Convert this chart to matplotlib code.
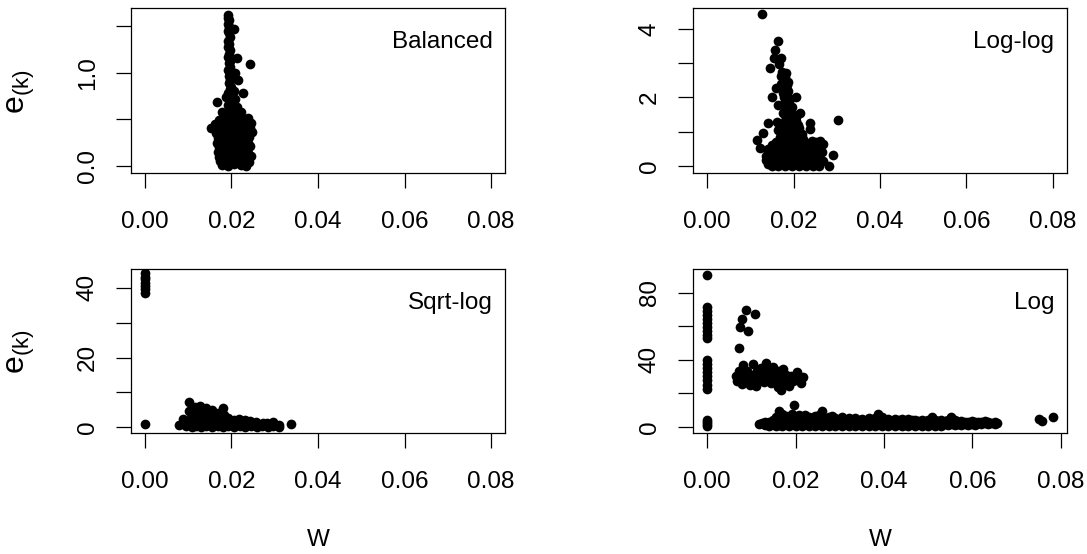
import matplotlib
matplotlib.use("Agg")
import matplotlib.pyplot as plt

plt.rcParams['font.family'] = ['Liberation Sans', 'DejaVu Sans']
plt.rcParams['mathtext.fontset'] = 'custom'
plt.rcParams['mathtext.rm'] = 'Liberation Sans'
plt.rcParams['mathtext.it'] = 'Liberation Sans:italic'

# ---------------- data ----------------
panel_names = ["Balanced", "Log-log", "Sqrt-log", "Log"]
x_ticks = [0.00, 0.02, 0.04, 0.06, 0.08]
x_tick_labels = ["0.00", "0.02", "0.04", "0.06", "0.08"]

bal_ticks = [0.0, 0.5, 1.0, 1.5]
bal_tick_labels = ["0.0", "", "1.0", ""]
loglog_ticks = [0, 1, 2, 3, 4]
loglog_tick_labels = ["0", "", "2", "", "4"]
sqrtlog_ticks = [0, 10, 20, 30, 40]
sqrtlog_tick_labels = ["0", "", "20", "", "40"]
log_ticks = [0, 20, 40, 60, 80]
log_tick_labels = ["0", "", "40", "", "80"]

bal_points = [
    (0.0193, 1.62), (0.0192, 1.59), (0.0194, 1.56), (0.0193, 1.52), (0.0195, 1.49),
    (0.0205, 1.47), (0.0192, 1.45), (0.0194, 1.42), (0.0196, 1.38), (0.0193, 1.34),
    (0.0195, 1.31), (0.0192, 1.27), (0.0196, 1.24), (0.0194, 1.20), (0.0193, 1.17),
    (0.0213, 1.16), (0.0197, 1.13), (0.0194, 1.10), (0.0242, 1.09), (0.0196, 1.06),
    (0.0193, 1.03), (0.0209, 1.00), (0.0198, 0.99), (0.0195, 0.96), (0.0215, 0.92),
    (0.0197, 0.92), (0.0194, 0.89), (0.0199, 0.85), (0.0203, 0.94),
    (0.0196, 0.82), (0.0205, 0.80), (0.0192, 0.78), (0.0227, 0.78), (0.0201, 0.75),
    (0.0188, 0.74), (0.0209, 0.72), (0.0196, 0.70), (0.0166, 0.69), (0.0204, 0.67),
    (0.0192, 0.65), (0.0212, 0.63), (0.0198, 0.61), (0.0178, 0.58), (0.0207, 0.58),
    (0.0190, 0.56), (0.0215, 0.55), (0.0200, 0.53), (0.0184, 0.52), (0.0222, 0.58),
    (0.0172, 0.49), (0.0186, 0.50), (0.0199, 0.48), (0.0212, 0.50), (0.0225, 0.49), (0.0238, 0.51),
    (0.0161, 0.45), (0.0175, 0.44), (0.0190, 0.45), (0.0204, 0.43), (0.0218, 0.45), (0.0232, 0.44), (0.0246, 0.46),
    (0.0153, 0.41), (0.0168, 0.40), (0.0183, 0.39), (0.0197, 0.41), (0.0211, 0.39), (0.0226, 0.40), (0.0242, 0.41),
    (0.0165, 0.35), (0.0179, 0.36), (0.0193, 0.34), (0.0207, 0.36), (0.0221, 0.35), (0.0236, 0.34), (0.0248, 0.36),
    (0.0170, 0.30), (0.0184, 0.29), (0.0198, 0.31), (0.0213, 0.30), (0.0227, 0.29), (0.0241, 0.31),
    (0.0167, 0.25), (0.0181, 0.24), (0.0195, 0.26), (0.0209, 0.25), (0.0223, 0.24), (0.0238, 0.25),
    (0.0171, 0.20), (0.0186, 0.19), (0.0200, 0.21), (0.0214, 0.20), (0.0228, 0.19), (0.0243, 0.21),
    (0.0168, 0.15), (0.0182, 0.16), (0.0196, 0.14), (0.0210, 0.15), (0.0224, 0.16), (0.0239, 0.14),
    (0.0172, 0.10), (0.0186, 0.09), (0.0200, 0.11), (0.0214, 0.10), (0.0229, 0.09), (0.0245, 0.11),
    (0.0174, 0.05), (0.0188, 0.06), (0.0202, 0.04), (0.0216, 0.05), (0.0230, 0.06), (0.0241, 0.04),
    (0.0179, 0.01), (0.0193, 0.00), (0.0207, 0.02), (0.0221, 0.01), (0.0234, 0.00),
]

loglog_points = [
    (0.0128, 4.42), (0.0163, 3.64), (0.0158, 3.38), (0.0154, 3.14), (0.0172, 3.14),
    (0.0166, 2.98), (0.0146, 2.85), (0.0173, 2.75), (0.0181, 2.60), (0.0185, 2.36),
    (0.0160, 2.28), (0.0150, 2.02), (0.0206, 2.02), (0.0163, 1.78), (0.0215, 1.54),
    (0.0162, 1.29), (0.0141, 1.24), (0.0239, 1.24), (0.0237, 1.08), (0.0302, 1.34),
    (0.0129, 0.95), (0.0115, 0.76), (0.0122, 0.53), (0.0291, 0.32), (0.0281, 0.01),
    (0.0178, 2.55), (0.0186, 2.45), (0.0180, 2.30), (0.0188, 2.20), (0.0176, 2.12),
    (0.0185, 2.05), (0.0192, 1.95), (0.0180, 1.90), (0.0188, 1.80), (0.0196, 1.72),
    (0.0182, 1.65), (0.0190, 1.58), (0.0200, 1.50), (0.0185, 1.45), (0.0194, 1.38),
    (0.0205, 1.32), (0.0180, 1.30), (0.0190, 1.22), (0.0200, 1.15), (0.0212, 1.10),
    (0.0178, 1.12), (0.0186, 1.05), (0.0196, 1.00), (0.0208, 0.95), (0.0220, 0.92),
    (0.0172, 0.98), (0.0182, 0.90), (0.0170, 2.62), (0.0183, 2.70), (0.0172, 2.40),
    (0.0178, 2.00), (0.0185, 1.85), (0.0192, 1.65), (0.0175, 1.55), (0.0183, 1.40),
    (0.0205, 1.42), (0.0175, 1.20), (0.0195, 1.25), (0.0210, 1.20), (0.0165, 1.05),
    (0.0168, 0.85), (0.0178, 0.78), (0.0190, 0.82), (0.0200, 0.80), (0.0212, 0.78),
    (0.0222, 0.80), (0.0172, 0.70), (0.0185, 0.68), (0.0198, 0.70), (0.0210, 0.67),
    (0.0225, 0.70),
    (0.0160, 0.70), (0.0205, 0.72), (0.0242, 0.74), (0.0252, 0.70), (0.0262, 0.72),
    (0.0150, 0.60), (0.0172, 0.62), (0.0190, 0.64), (0.0215, 0.60), (0.0235, 0.63), (0.0258, 0.61), (0.0268, 0.64),
    (0.0142, 0.50), (0.0158, 0.52), (0.0175, 0.49), (0.0192, 0.51), (0.0210, 0.50), (0.0228, 0.52), (0.0245, 0.49), (0.0262, 0.51),
    (0.0140, 0.40), (0.0155, 0.38), (0.0170, 0.41), (0.0186, 0.39), (0.0202, 0.40), (0.0218, 0.38), (0.0234, 0.41), (0.0250, 0.39), (0.0265, 0.40),
    (0.0137, 0.28), (0.0152, 0.30), (0.0167, 0.27), (0.0183, 0.29), (0.0198, 0.28), (0.0214, 0.30), (0.0230, 0.27), (0.0246, 0.29), (0.0260, 0.28),
    (0.0136, 0.17), (0.0149, 0.15), (0.0164, 0.18), (0.0180, 0.16), (0.0195, 0.17), (0.0211, 0.15), (0.0226, 0.18), (0.0242, 0.16), (0.0256, 0.17), (0.0268, 0.15),
    (0.0140, 0.06), (0.0154, 0.07), (0.0168, 0.05), (0.0183, 0.06), (0.0199, 0.07), (0.0214, 0.05), (0.0230, 0.06), (0.0245, 0.07), (0.0260, 0.05),
    (0.0150, 0.00), (0.0165, 0.01), (0.0180, 0.00), (0.0196, 0.01), (0.0212, 0.00), (0.0228, 0.01), (0.0244, 0.00), (0.0258, 0.01),
]

sqrtlog_points = [
    (0.0000, 44.1), (0.0000, 43.2), (0.0000, 42.4), (0.0000, 41.5), (0.0000, 40.6),
    (0.0000, 39.6), (0.0000, 38.5), (0.0000, 0.9),
    (0.0102, 7.35), (0.0103, 4.8), (0.0181, 5.4), (0.0088, 2.3), (0.0078, 0.67),
    (0.0337, 0.95), (0.0295, 1.4),
    (0.0095, 0.3), (0.0096, 1.1),
    (0.0108, 0.2), (0.0109, 1.5), (0.0107, 2.8), (0.0110, 3.9),
    (0.0118, 0.4), (0.0119, 1.8), (0.0117, 3.2), (0.0120, 4.8), (0.0116, 5.8),
    (0.0130, 0.2), (0.0131, 1.4), (0.0129, 2.6), (0.0132, 3.9), (0.0130, 5.2), (0.0128, 6.0),
    (0.0142, 0.5), (0.0143, 1.9), (0.0141, 3.1), (0.0144, 4.4), (0.0142, 5.5),
    (0.0155, 0.2), (0.0156, 1.3), (0.0154, 2.5), (0.0157, 3.7), (0.0155, 4.9),
    (0.0168, 0.4), (0.0169, 1.7), (0.0167, 2.9), (0.0170, 4.2),
    (0.0180, 0.1), (0.0181, 1.2), (0.0179, 2.4), (0.0182, 3.5),
    (0.0193, 0.3), (0.0194, 1.5), (0.0192, 2.7),
    (0.0206, 0.1), (0.0207, 1.1), (0.0205, 2.2),
    (0.0219, 0.4), (0.0220, 1.5), (0.0218, 2.3),
    (0.0232, 0.2), (0.0233, 1.2), (0.0231, 2.0),
    (0.0245, 0.3), (0.0246, 1.0), (0.0244, 1.7),
    (0.0258, 0.1), (0.0259, 0.8), (0.0257, 1.5),
    (0.0271, 0.3), (0.0272, 1.1),
    (0.0284, 0.1), (0.0285, 0.8), (0.0283, 1.3),
    (0.0297, 0.3), (0.0310, 0.2), (0.0311, 0.6),
]

log_points = [
    (0.0000, 90.5),
    (0.0000, 71.3), (0.0000, 68.9), (0.0000, 66.5), (0.0000, 64.1), (0.0000, 61.7),
    (0.0000, 59.3), (0.0000, 57.0), (0.0000, 54.8), (0.0000, 52.8),
    (0.0000, 40.1), (0.0000, 37.6), (0.0000, 35.1), (0.0000, 32.6), (0.0000, 30.1),
    (0.0000, 27.6), (0.0000, 25.1), (0.0000, 22.6),
    (0.0000, 0.5), (0.0000, 1.7), (0.0000, 2.9), (0.0000, 3.9),
    (0.0087, 69.7), (0.0109, 67.1), (0.0079, 64.2), (0.0075, 59.8), (0.0092, 57.4), (0.0071, 46.9),
    (0.0065, 30.5), (0.0068, 27.5), (0.0072, 33.0), (0.0075, 29.0), (0.0078, 25.5),
    (0.0081, 36.8), (0.0083, 31.5), (0.0087, 27.0), (0.0090, 33.5), (0.0093, 29.5),
    (0.0097, 25.0), (0.0100, 31.0), (0.0104, 37.6), (0.0106, 27.5), (0.0111, 24.2),
    (0.0112, 33.0), (0.0118, 29.0), (0.0122, 35.0), (0.0125, 31.0), (0.0128, 26.5),
    (0.0134, 38.0), (0.0138, 33.5), (0.0142, 29.5), (0.0145, 26.0), (0.0150, 35.5),
    (0.0153, 31.0), (0.0157, 27.5), (0.0160, 24.0), (0.0163, 33.0), (0.0166, 22.2),
    (0.0168, 29.0), (0.0172, 34.5), (0.0175, 26.0), (0.0178, 31.0), (0.0182, 28.0),
    (0.0186, 24.5), (0.0190, 30.0), (0.0195, 27.0), (0.0200, 29.5), (0.0204, 32.5),
    (0.0208, 28.0), (0.0212, 26.1), (0.0216, 29.5),
    (0.0197, 12.9), (0.0162, 9.3), (0.0259, 9.3), (0.0387, 7.3), (0.0509, 5.9), (0.0551, 5.9),
    (0.0750, 4.4), (0.0758, 3.4), (0.0782, 5.7),
    (0.0118, 1.6), (0.0125, 2.4), (0.0132, 1.2), (0.0132, 3.0), (0.0140, 0.6), (0.0140, 2.6),
    (0.0148, 1.8), (0.0148, 4.0), (0.0155, 0.4), (0.0155, 2.8), (0.0155, 5.5),
    (0.0162, 1.2), (0.0162, 3.6), (0.0170, 0.3), (0.0170, 2.4), (0.0170, 5.0), (0.0170, 7.5),
    (0.0178, 1.5), (0.0178, 4.2), (0.0178, 6.5), (0.0185, 0.5), (0.0185, 2.8), (0.0185, 5.8),
    (0.0192, 1.8), (0.0192, 4.5), (0.0192, 7.8), (0.0200, 0.4), (0.0200, 3.0), (0.0200, 6.0),
    (0.0208, 1.4), (0.0208, 4.2), (0.0208, 7.0), (0.0215, 0.3), (0.0215, 2.6), (0.0215, 5.4),
    (0.0222, 1.6), (0.0222, 4.0), (0.0222, 6.8), (0.0230, 0.5), (0.0230, 3.0), (0.0230, 5.5),
    (0.0238, 1.8), (0.0238, 4.4), (0.0245, 0.3), (0.0245, 2.9), (0.0245, 6.2),
    (0.0252, 1.4), (0.0252, 4.5), (0.0252, 7.2), (0.0260, 0.5), (0.0260, 3.0), (0.0260, 5.8),
    (0.0268, 1.8), (0.0268, 4.2), (0.0275, 0.4), (0.0275, 2.6), (0.0275, 5.5),
    (0.0283, 1.5), (0.0283, 4.0), (0.0283, 6.5), (0.0290, 0.3), (0.0290, 2.8), (0.0290, 5.2),
    (0.0298, 1.6), (0.0298, 4.3), (0.0305, 0.6), (0.0305, 3.0), (0.0305, 5.6),
    (0.0313, 1.8), (0.0313, 4.0), (0.0320, 0.4), (0.0320, 2.7), (0.0320, 5.0),
    (0.0328, 1.5), (0.0328, 3.9), (0.0335, 0.5), (0.0335, 2.8), (0.0335, 5.2),
    (0.0343, 1.7), (0.0343, 4.1), (0.0350, 0.3), (0.0350, 2.6), (0.0350, 4.8),
    (0.0358, 1.4), (0.0358, 3.7), (0.0365, 0.5), (0.0365, 2.9), (0.0365, 5.0),
    (0.0373, 1.6), (0.0373, 4.0), (0.0380, 0.4), (0.0380, 2.7), (0.0380, 5.4),
    (0.0388, 1.5), (0.0388, 3.8), (0.0395, 0.6), (0.0395, 2.9), (0.0395, 5.6),
    (0.0403, 1.8), (0.0403, 4.2), (0.0410, 0.4), (0.0410, 2.6), (0.0410, 4.8),
    (0.0418, 1.4), (0.0418, 3.6), (0.0425, 0.5), (0.0425, 2.8), (0.0425, 4.6),
    (0.0433, 1.6), (0.0433, 3.8), (0.0440, 0.3), (0.0440, 2.5), (0.0440, 4.4),
    (0.0448, 1.3), (0.0448, 3.5), (0.0455, 0.5), (0.0455, 2.7), (0.0455, 4.6),
    (0.0463, 1.5), (0.0463, 3.8), (0.0470, 0.4), (0.0470, 2.4), (0.0470, 4.3),
    (0.0478, 1.4), (0.0478, 3.4), (0.0485, 0.6), (0.0485, 2.6), (0.0485, 4.2),
    (0.0493, 1.5), (0.0493, 3.5), (0.0500, 0.5), (0.0500, 2.4), (0.0500, 4.0),
    (0.0508, 1.6), (0.0515, 0.6), (0.0515, 2.6), (0.0515, 3.9),
    (0.0523, 1.4), (0.0523, 3.3), (0.0530, 0.7), (0.0530, 2.5), (0.0530, 4.0),
    (0.0538, 1.5), (0.0538, 3.4), (0.0545, 0.8), (0.0545, 2.6), (0.0545, 4.2),
    (0.0553, 1.6), (0.0553, 3.3), (0.0560, 0.9), (0.0560, 2.5), (0.0560, 3.8),
    (0.0568, 1.7), (0.0568, 3.0), (0.0575, 1.0), (0.0575, 2.6), (0.0575, 3.6),
    (0.0583, 1.8), (0.0583, 3.1), (0.0590, 1.1), (0.0590, 2.6),
    (0.0598, 1.9), (0.0598, 3.2), (0.0605, 1.2), (0.0605, 2.7),
    (0.0613, 2.0), (0.0613, 3.0), (0.0620, 1.4), (0.0620, 2.6),
    (0.0628, 2.1), (0.0628, 3.2), (0.0635, 1.6), (0.0635, 2.8),
    (0.0643, 2.2), (0.0650, 1.8), (0.0650, 2.8), (0.0656, 2.3),
]

# ---------------- layout (pixel geometry of the reference) ----------------
W, H = 1087, 554
fig = plt.figure(figsize=(W / 100, H / 100), dpi=100)


def box(l, t, r, b):
    return [l / W, 1 - b / H, (r - l) / W, (b - t) / H]


panels = [
    dict(pts=bal_points, rect=box(131, 8.3, 505, 172.7), ylim=(-0.072, 1.69),
         yt=bal_ticks, ytl=bal_tick_labels, xlim=(-0.0032, 0.0832)),
    dict(pts=loglog_points, rect=box(693.3, 8.3, 1066.7, 172.7), ylim=(-0.195, 4.60),
         yt=loglog_ticks, ytl=loglog_tick_labels, xlim=(-0.0032, 0.0832)),
    dict(pts=sqrtlog_points, rect=box(131, 269.3, 505, 433.3), ylim=(-1.72, 45.3),
         yt=sqrtlog_ticks, ytl=sqrtlog_tick_labels, xlim=(-0.0032, 0.0832)),
    dict(pts=log_points, rect=box(693.3, 269.3, 1066.7, 433.3), ylim=(-3.94, 94.0),
         yt=log_ticks, ytl=log_tick_labels, xlim=(-0.00313, 0.08133)),
]

FS = 17.5
LW = 0.9
for i, p in enumerate(panels):
    ax = fig.add_axes(p["rect"])
    xs = [q[0] for q in p["pts"]]
    ys = [q[1] for q in p["pts"]]
    ax.plot(xs, ys, linestyle="none", marker="o", markersize=7.0,
            markerfacecolor="black", markeredgewidth=0, color="black")
    ax.set_xlim(*p["xlim"])
    ax.set_ylim(*p["ylim"])
    ax.set_xticks(x_ticks)
    ax.set_xticklabels(x_tick_labels, fontsize=FS)
    ax.set_yticks(p["yt"])
    ax.set_yticklabels(p["ytl"], fontsize=FS)
    for lab in ax.get_yticklabels():
        lab.set_rotation(90)
        lab.set_va("center")
        lab.set_ha("right")
    ax.tick_params(axis="both", direction="out", length=10.8, width=LW, color="black")
    ax.tick_params(axis="x", pad=16.5)
    ax.tick_params(axis="y", pad=12.5)
    for s in ax.spines.values():
        s.set_linewidth(LW)
        s.set_color("black")
    ax.text(0.967, 0.795, panel_names[i], transform=ax.transAxes,
            ha="right", va="center", fontsize=FS)

# axis titles
fig.text(21.5 / W, 1 - 91.5 / H, r"$\mathregular{e_{(k)}}$", rotation=90,
         ha="center", va="center", fontsize=23)
fig.text(21.5 / W, 1 - 352.0 / H, r"$\mathregular{e_{(k)}}$", rotation=90,
         ha="center", va="center", fontsize=23)
fig.text(318 / W, 1 - 540 / H, "W", ha="center", va="center", fontsize=FS)
fig.text(880 / W, 1 - 540 / H, "W", ha="center", va="center", fontsize=FS)

fig.savefig("out.png", dpi=100)
